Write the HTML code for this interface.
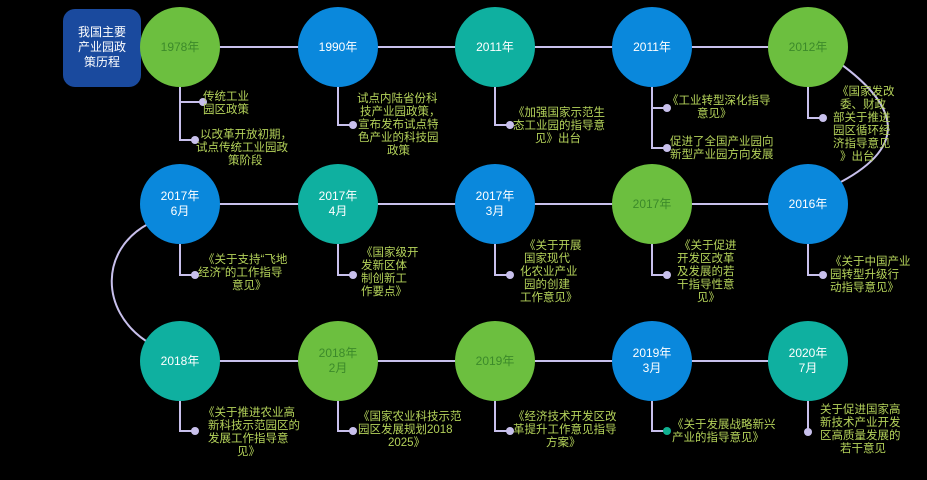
<!DOCTYPE html>
<html><head><meta charset="utf-8"><style>
html,body{margin:0;padding:0;background:#000;}
svg{display:block}
text{font-family:"Liberation Sans","Noto Sans CJK SC",sans-serif;}
.y{font-size:12px;text-anchor:middle;}
.t{font-size:11.5px;fill:#b4d25a;}
.ln{stroke:#c8c0ec;stroke-width:2;fill:none}
.dot{fill:#c8c0ec}
</style></head><body>
<svg width="927" height="480" viewBox="0 0 927 480">
<rect x="0" y="0" width="927" height="480" fill="#000"/>
<!-- horizontal lines -->
<line class="ln" x1="180" y1="47" x2="808" y2="47"/>
<line class="ln" x1="180" y1="204" x2="808" y2="204"/>
<line class="ln" x1="180" y1="361" x2="808" y2="361"/>
<!-- curves -->
<path class="ln" d="M838 62 C 905 110, 905 150, 835 185"/>
<path class="ln" d="M148 224 C 100 250, 100 310, 146 341"/>
<!-- title box -->
<rect x="63" y="9" width="78" height="78" rx="12" fill="#1a4a9e"/>
<text x="102" y="36" fill="#fff" font-size="12" text-anchor="middle">我国主要</text>
<text x="102" y="51" fill="#fff" font-size="12" text-anchor="middle">产业园政</text>
<text x="102" y="66" fill="#fff" font-size="12" text-anchor="middle">策历程</text>
<!-- connectors -->
<g class="ln">
<path d="M180 87 V102 H203"/><path d="M180 100 V140 H194"/>
<path d="M338 87 V125 H353"/>
<path d="M495 87 V125 H510"/>
<path d="M652 87 V108 H667"/><path d="M652 100 V148 H667"/>
<path d="M808 87 V118 H823"/>
<path d="M180 244 V275 H195"/>
<path d="M338 244 V275 H353"/>
<path d="M495 244 V275 H510"/>
<path d="M652 244 V275 H667"/>
<path d="M808 244 V275 H823"/>
<path d="M180 401 V431 H195"/>
<path d="M338 401 V431 H353"/>
<path d="M495 401 V431 H510"/>
<path d="M652 401 V431 H667"/>
<path d="M808 401 V431"/>
</g>
<g class="dot">
<circle cx="203" cy="102" r="4"/><circle cx="195" cy="140" r="4"/>
<circle cx="353" cy="125" r="4"/><circle cx="510" cy="125" r="4"/>
<circle cx="667" cy="108" r="4"/><circle cx="667" cy="148" r="4"/>
<circle cx="823" cy="118" r="4"/>
<circle cx="195" cy="275" r="4"/><circle cx="353" cy="275" r="4"/><circle cx="510" cy="275" r="4"/><circle cx="667" cy="275" r="4"/><circle cx="823" cy="275" r="4"/>
<circle cx="195" cy="431" r="4"/><circle cx="353" cy="431" r="4"/><circle cx="510" cy="431" r="4"/><circle cx="667" cy="431" r="4" fill="#10b090"/><circle cx="808" cy="432" r="4"/>
</g>
<!-- circles row1 -->
<circle cx="180" cy="47" r="40" fill="#6cbf3f"/>
<circle cx="338" cy="47" r="40" fill="#0a88dc"/>
<circle cx="495" cy="47" r="40" fill="#0fb0a0"/>
<circle cx="652" cy="47" r="40" fill="#0a88dc"/>
<circle cx="808" cy="47" r="40" fill="#6cbf3f"/>
<!-- row2 -->
<circle cx="180" cy="204" r="40" fill="#0a88dc"/>
<circle cx="338" cy="204" r="40" fill="#0fb0a0"/>
<circle cx="495" cy="204" r="40" fill="#0a88dc"/>
<circle cx="652" cy="204" r="40" fill="#6cbf3f"/>
<circle cx="808" cy="204" r="40" fill="#0a88dc"/>
<!-- row3 -->
<circle cx="180" cy="361" r="40" fill="#0fb0a0"/>
<circle cx="338" cy="361" r="40" fill="#6cbf3f"/>
<circle cx="495" cy="361" r="40" fill="#6cbf3f"/>
<circle cx="652" cy="361" r="40" fill="#0a88dc"/>
<circle cx="808" cy="361" r="40" fill="#0fb0a0"/>
<!-- year labels -->
<g class="y">
<text x="180" y="51" fill="#3c8a2a">1978年</text>
<text x="338" y="51" fill="#fff">1990年</text>
<text x="495" y="51" fill="#fff">2011年</text>
<text x="652" y="51" fill="#fff">2011年</text>
<text x="808" y="51" fill="#3c8a2a">2012年</text>
<text x="180" y="200" fill="#fff">2017年</text><text x="180" y="215" fill="#fff">6月</text>
<text x="338" y="200" fill="#fff">2017年</text><text x="338" y="215" fill="#fff">4月</text>
<text x="495" y="200" fill="#fff">2017年</text><text x="495" y="215" fill="#fff">3月</text>
<text x="652" y="208" fill="#3c8a2a">2017年</text>
<text x="808" y="208" fill="#fff">2016年</text>
<text x="180" y="365" fill="#fff">2018年</text>
<text x="338" y="357" fill="#3c8a2a">2018年</text><text x="338" y="372" fill="#3c8a2a">2月</text>
<text x="495" y="365" fill="#3c8a2a">2019年</text>
<text x="652" y="357" fill="#fff">2019年</text><text x="652" y="372" fill="#fff">3月</text>
<text x="808" y="357" fill="#fff">2020年</text><text x="808" y="372" fill="#fff">7月</text>
</g>
<!-- descriptions -->
<g class="t">
<text x="203" y="100">传统工业</text><text x="203" y="113">园区政策</text>
<text x="200" y="138">以改革开放初期，</text><text x="196" y="151">试点传统工业园政</text><text x="228" y="164">策阶段</text>
<text x="357" y="102">试点内陆省份科</text><text x="360" y="115">技产业园政策，</text><text x="358" y="128">宣布发布试点特</text><text x="358" y="141">色产业的科技园</text><text x="387" y="154">政策</text>
<text x="513" y="116">《加强国家示范生</text><text x="513" y="129">态工业园的指导意</text><text x="535" y="142">见》出台</text>
<text x="667" y="104">《工业转型深化指导</text><text x="697" y="117">意见》</text>
<text x="670" y="145">促进了全国产业园向</text><text x="670" y="158">新型产业园方向发展</text>
<text x="837" y="95">《国家发改</text><text x="840" y="108">委、财政</text><text x="833" y="121">部关于推进</text><text x="833" y="134">园区循环经</text><text x="833" y="147">济指导意见</text><text x="840" y="160">》出台</text>
<text x="203" y="263">《关于支持“飞地</text><text x="198" y="276">经济”的工作指导</text><text x="232" y="289">意见》</text>
<text x="361" y="256">《国家级开</text><text x="361" y="269">发新区体</text><text x="361" y="282">制创新工</text><text x="361" y="295">作要点》</text>
<text x="524" y="249">《关于开展</text><text x="524" y="262">国家现代</text><text x="520" y="275">化农业产业</text><text x="524" y="288">园的创建</text><text x="520" y="301">工作意见》</text>
<text x="679" y="249">《关于促进</text><text x="677" y="262">开发区改革</text><text x="677" y="275">及发展的若</text><text x="677" y="288">干指导性意</text><text x="697" y="301">见》</text>
<text x="830" y="265">《关于中国产业</text><text x="830" y="278">园转型升级行</text><text x="830" y="291">动指导意见》</text>
<text x="203" y="416">《关于推进农业高</text><text x="208" y="429">新科技示范园区的</text><text x="208" y="442">发展工作指导意</text><text x="237" y="455">见》</text>
<text x="358" y="420">《国家农业科技示范</text><text x="358" y="433">园区发展规划2018</text><text x="388" y="446">2025》</text>
<text x="513" y="420">《经济技术开发区改</text><text x="513" y="433">革提升工作意见指导</text><text x="546" y="446">方案》</text>
<text x="672" y="428">《关于发展战略新兴</text><text x="672" y="441">产业的指导意见》</text>
<text x="820" y="413">关于促进国家高</text><text x="820" y="426">新技术产业开发</text><text x="820" y="439">区高质量发展的</text><text x="840" y="452">若干意见</text>
</g>
</svg>
</body></html>
